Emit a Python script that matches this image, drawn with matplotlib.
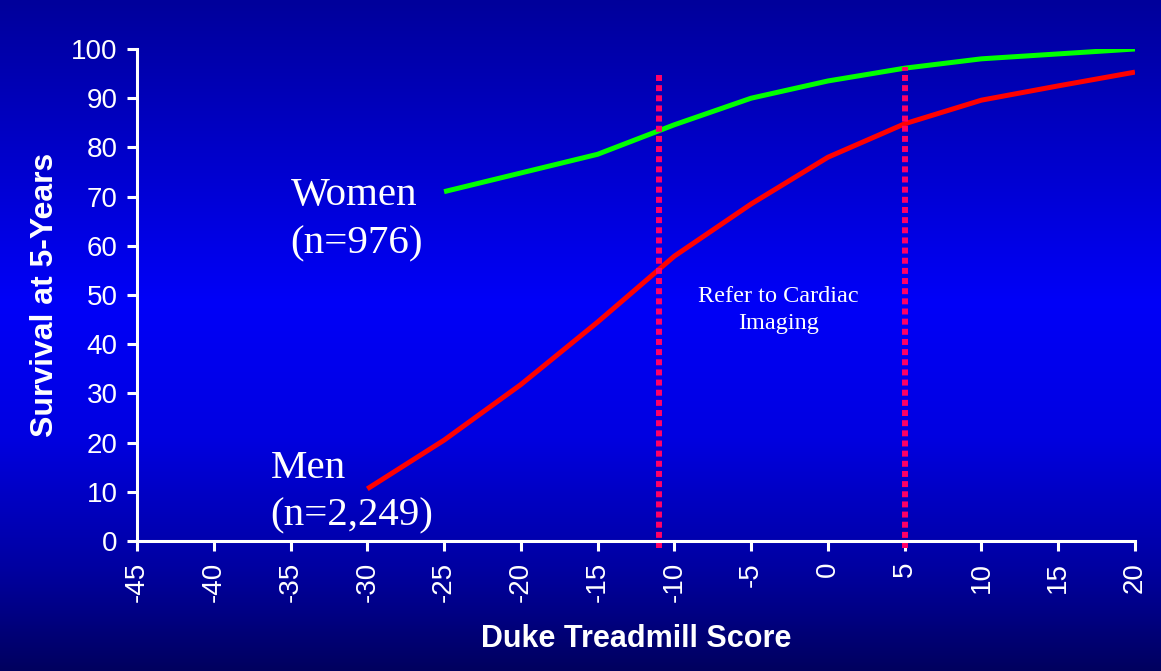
import numpy as np
import matplotlib.pyplot as plt
from matplotlib.colors import LinearSegmentedColormap

# data
score = [-30, -25, -20, -15, -10, -5, 0, 5, 10, 15, 20]
men = [10.6, 20.5, 31.8, 44.5, 57.9, 68.5, 78.0, 84.8, 89.6, 92.5, 95.3]
women_score = [-25, -20, -15, -10, -5, 0, 5, 10, 15, 20]
women = [71.0, 74.8, 78.6, 84.6, 90.0, 93.5, 96.1, 98.0, 99.0, 100.0]
cutoffs = [-11, 5]
cutoff_tops = [94.7, 96.3]
xticks = list(range(-45, 21, 5))
yticks = list(range(0, 101, 10))

fig = plt.figure(figsize=(11.61, 6.71), dpi=100)

# blue gradient background
bg = fig.add_axes([0, 0, 1, 1], zorder=0)
cmap = LinearSegmentedColormap.from_list(
    "bg", [(0.0, (0, 0, 155/255)), (0.45, (0, 0, 248/255)),
           (0.65, (0, 0, 225/255)), (0.85, (0, 0, 160/255)),
           (1.0, (0, 0, 95/255))])
bg.imshow(np.linspace(0, 1, 256).reshape(-1, 1), aspect="auto", cmap=cmap,
          extent=[0, 1, 0, 1])
bg.set_axis_off()

ax = fig.add_axes([0.118, 0.1937, 0.8596, 0.7333], zorder=1)
ax.patch.set_alpha(0)

ax.plot(women_score, women, color="#00ff00", lw=3.6, solid_capstyle="butt")
ax.plot(score, men, color="#ff0000", lw=3.6, solid_capstyle="butt")
for c, t in zip(cutoffs, cutoff_tops):
    ax.plot([c, c], [-1.5, t], color="#ff0066", lw=4.3,
            linestyle=(0, (1, 0.7)), clip_on=False)

ax.set_xlim(-45, 20)
ax.set_ylim(0, 100)
ax.set_xticks(xticks)
ax.set_yticks(yticks)
ax.set_xticklabels([str(v) for v in xticks], rotation=90)

for s in ["top", "right"]:
    ax.spines[s].set_visible(False)
for s in ["left", "bottom"]:
    ax.spines[s].set_color("white")
    ax.spines[s].set_linewidth(2.2)
ax.tick_params(colors="white", width=2.2, length=7, labelsize=20)
ax.tick_params(axis="y", pad=7)
ax.tick_params(axis="x", pad=8)
for lab in ax.get_xticklabels() + ax.get_yticklabels():
    lab.set_family("Liberation Sans")

ax.set_xlabel("Duke Treadmill Score", color="white", fontsize=22,
              fontweight="bold", family="Liberation Sans", labelpad=16)
ax.set_ylabel("Survival at 5-Years", color="white", fontsize=23,
              fontweight="bold", family="Liberation Sans", labelpad=8)

ax.text(-35.0, 65.3, "Women\n(n=976)", color="white", fontsize=29.5,
        family="Liberation Serif", ha="left", va="center", linespacing=1.38)
ax.text(-36.3, 10.0, "Men\n(n=2,249)", color="white", fontsize=29.5,
        family="Liberation Serif", ha="left", va="center", linespacing=1.38)
ax.text(-3.2, 47, "Refer to Cardiac\nImaging", color="white", fontsize=17.5,
        family="Liberation Serif", ha="center", va="center", linespacing=1.35)

fig.savefig("out.png", dpi=100)
